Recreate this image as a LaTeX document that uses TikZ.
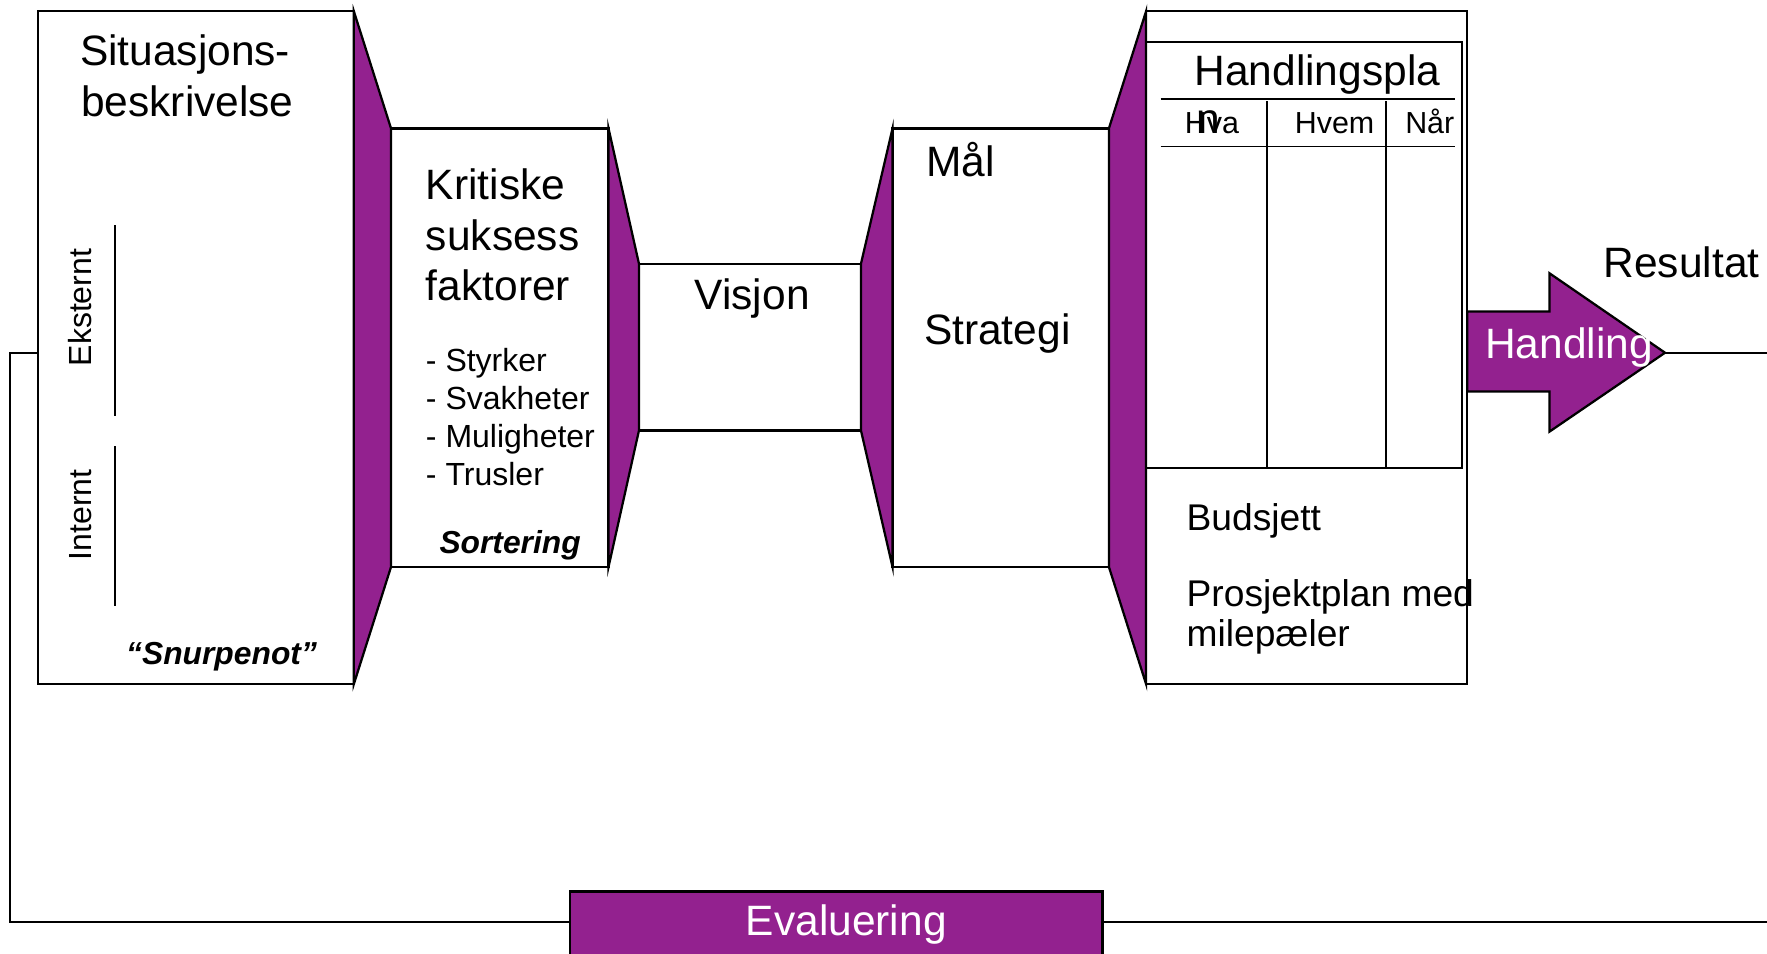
\documentclass[tikz,border=0pt]{standalone}
\usepackage{fontspec}
\setmainfont{Liberation Sans}
\definecolor{purp}{RGB}{147,33,143}
\begin{document}
\begin{tikzpicture}[x=1pt,y=-1pt,
  box/.style={draw,line width=2pt,inner sep=0pt,outer sep=0pt,fill=white},
  wing/.style={draw,fill=purp,line width=2pt,line join=miter},
  conn/.style={draw,line width=2pt},
  tline/.style={draw,line width=1.7pt},
  txt/.style={inner sep=0pt,outer sep=0pt,anchor=base west},
  big/.style={font=\fontsize{37.7}{45}\selectfont},
  mid/.style={font=\fontsize{28.4}{34}\selectfont},
  bud/.style={font=\fontsize{33}{36}\selectfont},
  hdr/.style={font=\fontsize{27}{32}\selectfont},
  emph/.style={font=\fontsize{28.2}{34}\selectfont\bfseries\itshape}
]
\useasboundingbox (0,0) rectangle (1568,846);
\clip (0,0) rectangle (1568,846);

% boxes
\node[box,minimum width=280pt,minimum height=597pt] (sit) at (174,308.5) {};
\node[box,minimum width=193pt,minimum height=389pt] (kss) at (443.5,308.5) {};
\node[box,minimum width=197pt,minimum height=148pt] (vis) at (665.5,308) {};
\node[box,minimum width=192pt,minimum height=389pt] (mal) at (888,308.5) {};
\node[box,minimum width=285pt,minimum height=597pt] (hp) at (1159.5,308.5) {};
\node[box,minimum width=280pt,minimum height=378pt] (tab) at (1157,226) {};

% purple wings
\draw[wing] (sit.north east) -- (kss.north west) -- (kss.south west) -- (sit.south east) -- cycle;
\draw[wing] (kss.north east) -- (vis.north west) -- (vis.south west) -- (kss.south east) -- cycle;
\draw[wing] (vis.north east) -- (mal.north west) -- (mal.south west) -- (vis.south east) -- cycle;
\draw[wing] (mal.north east) -- (hp.north west) -- (hp.south west) -- (mal.south east) -- cycle;

% table lines
\draw[tline] (1030,88) -- (1291,88);
\draw[tline] (1030,130) -- (1291,130);
\draw[tline] (1124,90) -- (1124,415);
\draw[tline] (1230,90) -- (1230,415);

% divider lines in situation box
\draw[tline] (102,200) -- (102,369.5);
\draw[tline] (102,396) -- (102,538);

% Handling arrow
\draw[wing] (1302,276.5) -- (1375,276.5) -- (1375,242.5) -- (1477.5,313) coordinate (tip)
  -- (1375,383) -- (1375,347.5) -- (1302,347.5) -- cycle;
\coordinate (rend) at (1575,313);
\draw[conn] (tip) -- (rend);

% Evaluering box and feedback loop
\node[draw,fill=purp,line width=2pt,inner sep=0pt,outer sep=0pt,
  minimum width=472.8pt,minimum height=80pt] (eval) at (742,831) {};
\coordinate (fbc) at (9,313);
\coordinate (ey) at (9,818);
\coordinate (bend) at (1575,818);
\draw[conn] (sit.west |- fbc) -- (fbc) -- (ey) -- (eval.west |- ey);
\draw[conn] (eval.east |- ey) -- (bend);

% texts
\node[txt,big] (t1) at (71,58) {Situasjons-};
\node[txt,big] (t2) at (72,103) {beskrivelse};
\node[txt,mid,rotate=90] (ek) at (81.3,325) {Eksternt};
\node[txt,mid,rotate=90] (in) at (81.3,497) {Internt};
\node[txt,emph] (snu) at (112,590) {“Snurpenot”};

\node[txt,big] (k1) at (378,177) {Kritiske};
\node[txt,big] (k2) at (378,222) {suksess};
\node[txt,big] (k3) at (378,267) {faktorer};
\node[txt,mid] (s1) at (378,330) {- Styrker};
\node[txt,mid] (s2) at (378,363.5) {- Svakheter};
\node[txt,mid] (s3) at (378,397) {- Muligheter};
\node[txt,mid] (s4) at (378,430.5) {- Trusler};
\node[txt,emph] (sort) at (390,491) {Sortering};

\node[txt,big] (vtx) at (616.5,275) {Visjon};
\node[txt,big] (mtx) at (822,156.5) {Mål};
\node[txt,big] (stx) at (820,305.5) {Strategi};

\node[txt,big] (htx) at (1060,76.3) {Handlingspla};
\node[txt,hdr] (hva) at (1051.5,118.3) {Hva};
\node[txt,big] (nov) at (1061.5,118.3) {n};
\node[txt,hdr] (hvem) at (1149,118.3) {Hvem};
\node[txt,hdr] (naar) at (1247,118.3) {Når};

\node[txt,bud] (bs) at (1053,471) {Budsjett};
\node[txt,bud] (pp1) at (1053,538) {Prosjektplan med};
\node[txt,bud] (pp2) at (1053,574) {milepæler};

\node[txt,big] (res) at (1423,246) {Resultat};
\node[txt,big,text=white] (hand) at (1318,318) {Handling};
\node[inner sep=0pt,anchor=base,big,text=white] (evtx) at (751,830) {Evaluering};
\end{tikzpicture}
\end{document}
